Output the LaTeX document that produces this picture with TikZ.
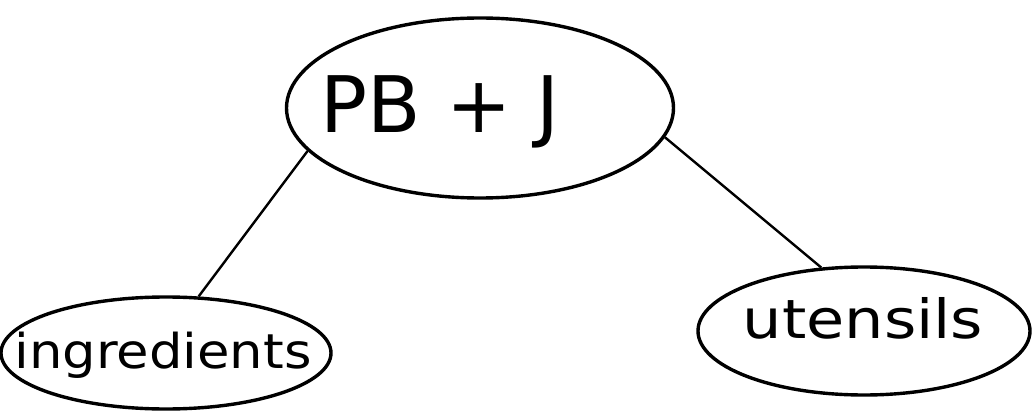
\documentclass[tikz,border=0pt]{standalone}
\usepackage{fontspec}
\setmainfont{DejaVu Sans}
\usetikzlibrary{shapes.geometric}
\newcommand{\ctext}[3]{\smash{\raisebox{#2}{\makebox[0pt]{#3\kern#1}}}}
\begin{document}
\begin{tikzpicture}[x=1pt,y=-1pt,
  bubble/.style={draw=black,line width=3.4pt,ellipse,inner sep=0pt},
  link/.style={draw=black,line width=2.4pt}]
\useasboundingbox (0,0) rectangle (1034,417);
\node[bubble,minimum width=387pt,minimum height=180pt] (top) at (480,108) {\fontsize{78}{84}\selectfont\ctext{80pt}{-25pt}{PB + J}};
\node[bubble,minimum width=330pt,minimum height=112pt] (ing) at (166,353) {\fontsize{48}{54}\selectfont\ctext{6pt}{-15pt}{\scalebox{1.1}[1]{ingredients}}};
\node[bubble,minimum width=332pt,minimum height=128pt] (ute) at (864,331) {\fontsize{54}{60}\selectfont\ctext{2pt}{-7pt}{\scalebox{1.15}[1]{utensils}}};
\draw[link] (top.194) -- (ing.60);
\draw[link] (top.-9) -- (ute.124);
\end{tikzpicture}
\end{document}
